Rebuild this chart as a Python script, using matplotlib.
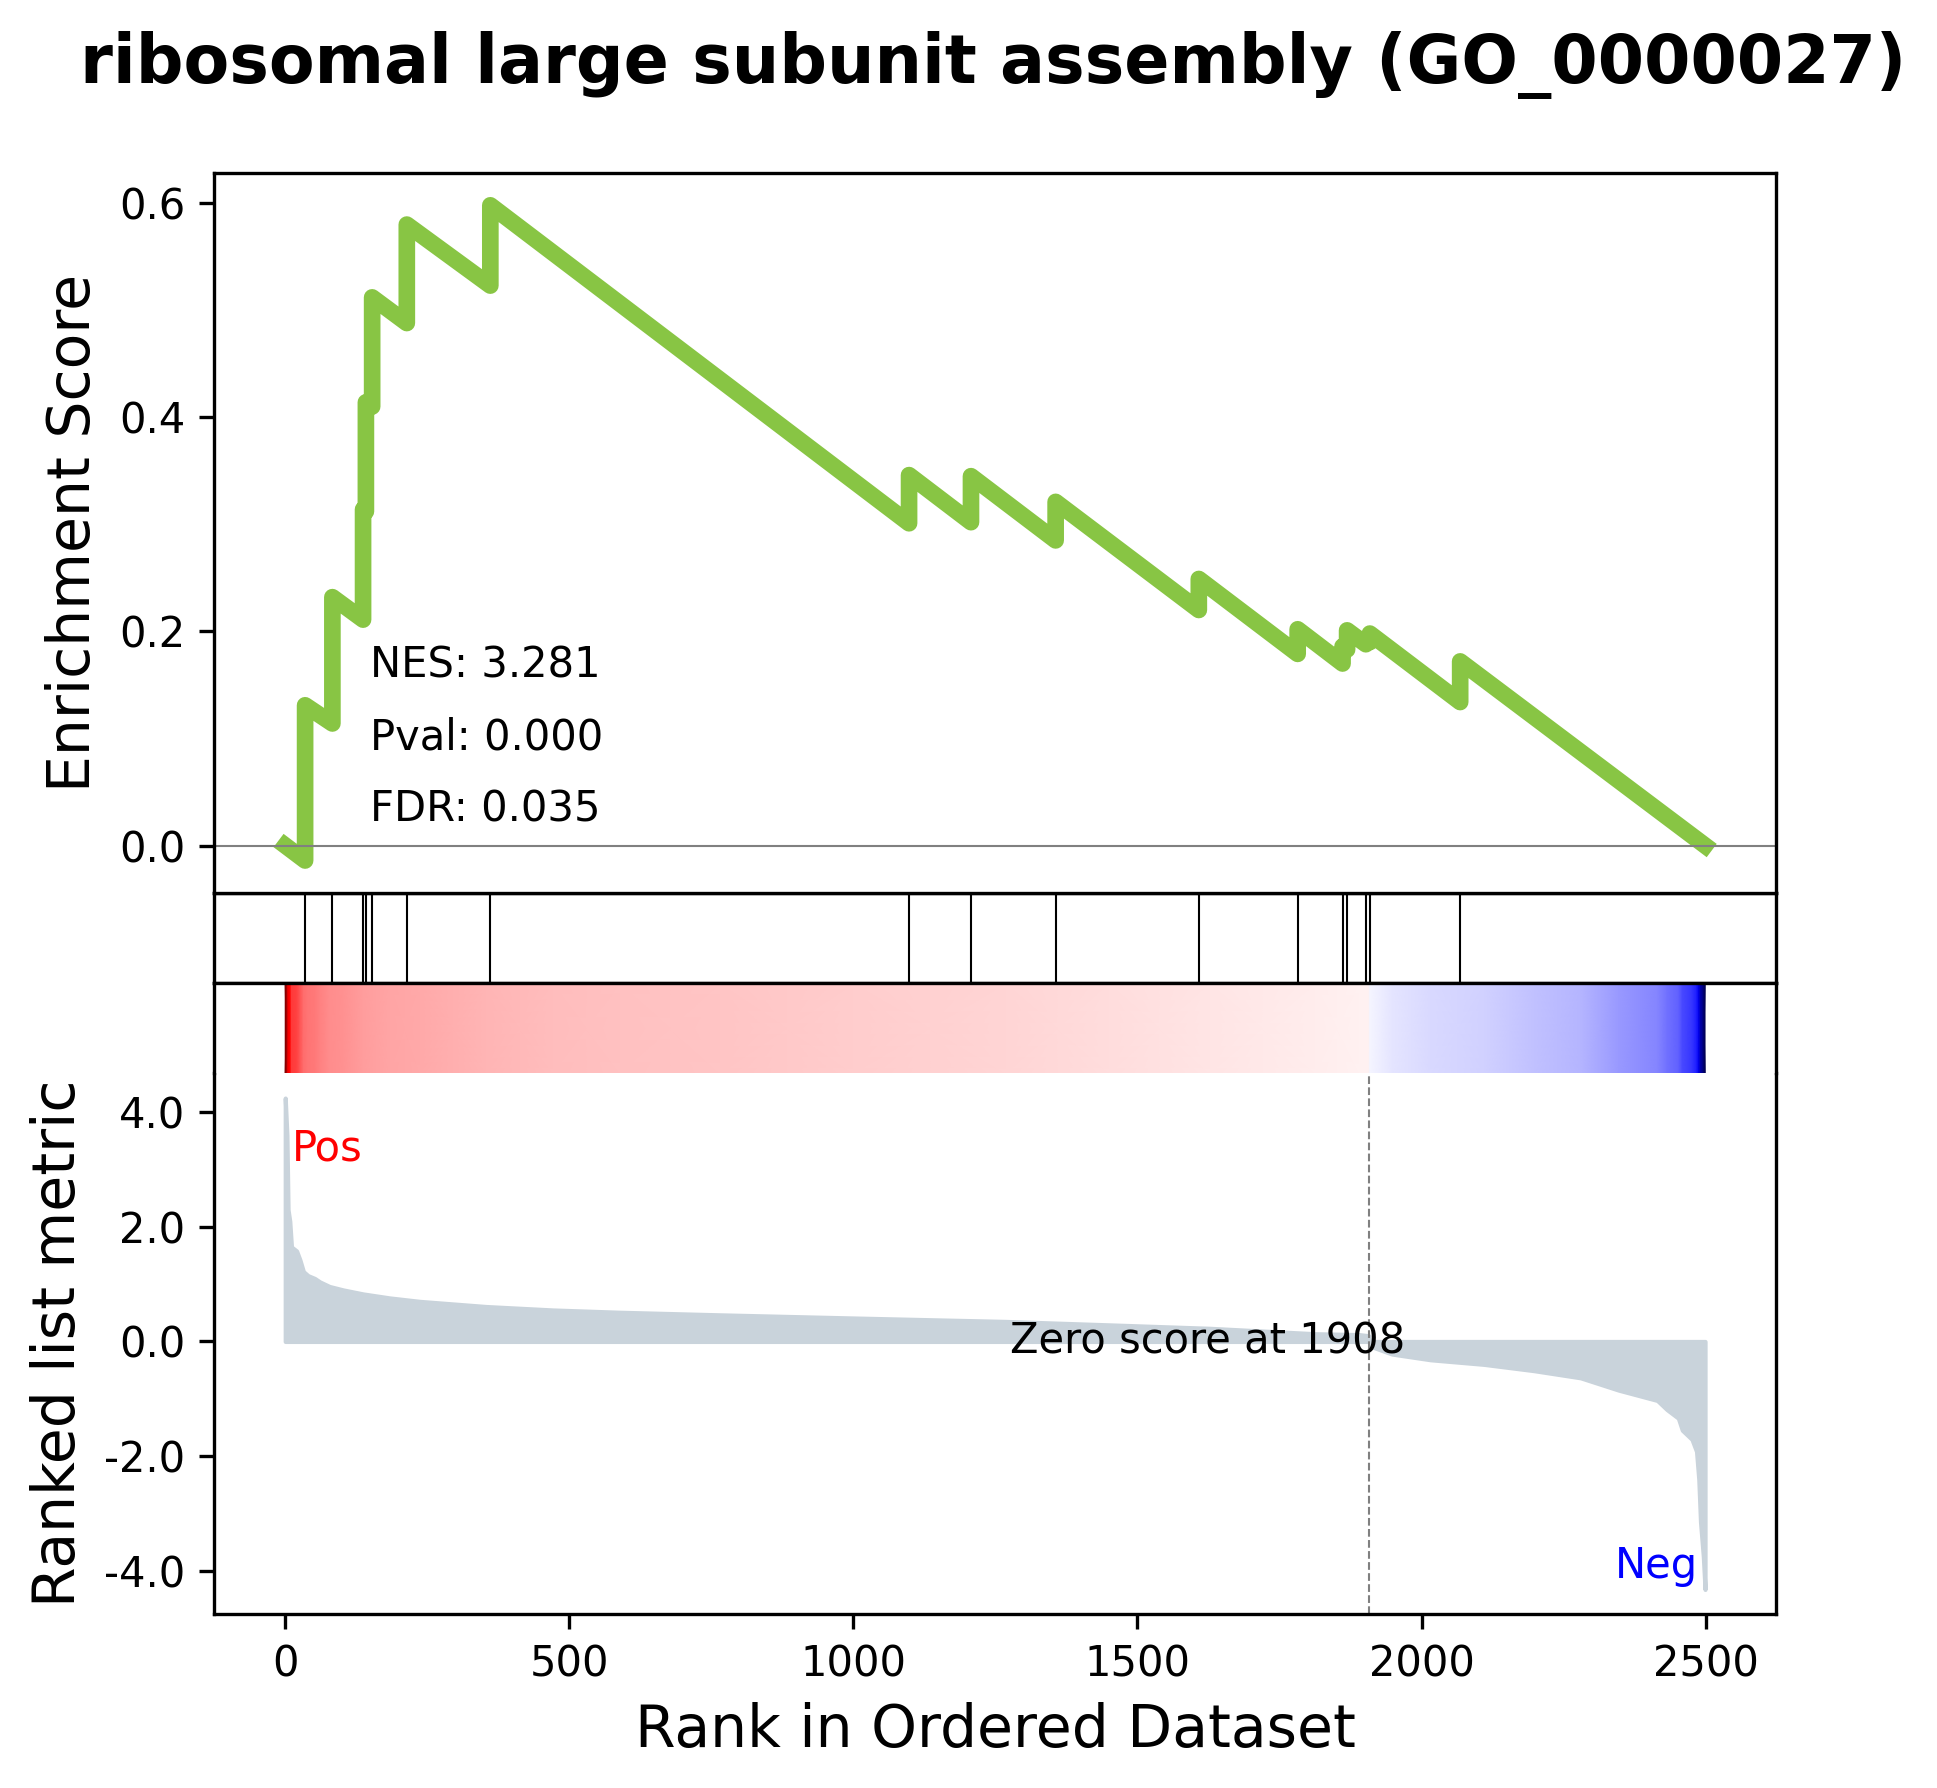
import numpy as np
import matplotlib
matplotlib.use("Agg")
import matplotlib.pyplot as plt
import matplotlib.transforms as transforms
from matplotlib.colors import TwoSlopeNorm

# ----------------- data -----------------
term = "ribosomal large subunit assembly (GO_0000027)"
nes_label = "NES: 3.281"
pval_label = "Pval: 0.000"
fdr_label = "FDR: 0.035"
zero_score_ind = 1908

# gene set hits (rank positions)
hit_ranks = [35, 83, 137, 142, 153, 214, 361, 1098, 1207, 1356,
             1608, 1782, 1861, 1869, 1902, 1909, 2068]

# running enrichment score, vertices (before / after each hit)
es_rank = [0, 35, 35, 83, 83, 137, 137, 142, 142, 153, 153, 214, 214,
           361, 361, 1098, 1098, 1207, 1207, 1356, 1356, 1608, 1608,
           1782, 1782, 1861, 1861, 1869, 1869, 1902, 1902, 1909, 1909,
           2068, 2068, 2499]
es_value = [0.000, -0.014, 0.131, 0.114, 0.232, 0.211, 0.314, 0.312,
            0.414, 0.410, 0.512, 0.488, 0.580, 0.523, 0.598, 0.301,
            0.346, 0.302, 0.345, 0.285, 0.321, 0.220, 0.249, 0.179,
            0.202, 0.170, 0.186, 0.183, 0.201, 0.188, 0.193, 0.190,
            0.198, 0.134, 0.172, 0.000]

# ranked list metric, sampled along the ranks
metric_rank = [0, 3, 5, 8, 11, 20, 26, 32, 40, 52, 61, 78, 102, 137,
               184, 237, 354, 471, 589, 765, 1000, 1268, 1450, 1627,
               1813, 1890, 1907, 1909, 1948, 2016, 2110, 2198, 2280,
               2347, 2415, 2432, 2452, 2459, 2476, 2484, 2488, 2491,
               2496, 2499]
metric_value = [4.25, 3.60, 2.30, 2.10, 1.65, 1.58, 1.42, 1.22, 1.15,
                1.10, 1.04, 0.96, 0.90, 0.83, 0.76, 0.70, 0.61, 0.55,
                0.51, 0.465, 0.41, 0.35, 0.29, 0.23, 0.135, 0.12, 0.10,
                -0.08, -0.22, -0.32, -0.40, -0.51, -0.635, -0.85, -1.03,
                -1.19, -1.34, -1.55, -1.71, -1.92, -2.41, -3.15, -3.76,
                -4.33]

# ----------------- figure -----------------
fig = plt.figure(figsize=(1937 / 300, 1788 / 300), dpi=300)
gs = plt.GridSpec(16, 1, left=0.1106, right=0.9169, top=0.9035,
                  bottom=0.0973, hspace=0)

# ranked metric
ax1 = fig.add_subplot(gs[10:])
ax1.fill_between(metric_rank, y1=metric_value, y2=0, color='#C9D3DB')
ax1.set_ylabel("Ranked list metric", fontsize=14)
ax1.set_xlabel("Rank in Ordered Dataset", fontsize=14)
ax1.text(.05, .9, "Pos", color='red', horizontalalignment='left',
         verticalalignment='top', transform=ax1.transAxes)
ax1.text(.95, .05, "Neg", color='Blue', horizontalalignment='right',
         verticalalignment='bottom', transform=ax1.transAxes)
trans1 = transforms.blended_transform_factory(ax1.transData, ax1.transAxes)
ax1.vlines(zero_score_ind, 0, 1, linewidth=.5, transform=trans1,
           linestyles='--', color='grey')
ax1.text(1624, 0.505, "Zero score at " + str(zero_score_ind),
         horizontalalignment='center', verticalalignment='center',
         transform=trans1)
ax1.locator_params(axis='y', nbins=5)
ax1.yaxis.set_major_formatter(plt.FuncFormatter(lambda v, n: '{:.1f}'.format(v)))
ax1.spines['top'].set_visible(False)

# gene hits
ax2 = fig.add_subplot(gs[8], sharex=ax1)
trans2 = transforms.blended_transform_factory(ax2.transData, ax2.transAxes)
ax2.vlines(hit_ranks, 0, 1, linewidth=.5, color='black', transform=trans2)
ax2.tick_params(axis='both', which='both', bottom=False, top=False,
                left=False, right=False, labelbottom=False, labelleft=False)

# colour bar of the ranking
ax3 = fig.add_subplot(gs[9], sharex=ax1)
norm = TwoSlopeNorm(vcenter=0, vmin=min(metric_value), vmax=max(metric_value))
mx, my = np.meshgrid(metric_rank, [0, 1])
mesh = ax3.pcolormesh(mx, my, np.array([metric_value, metric_value]),
                      cmap='seismic', norm=norm, shading='gouraud')
mesh.sticky_edges.x[:] = []
mesh.sticky_edges.y[:] = []
ax3.set_ylim(0, 1)
ax3.spines['bottom'].set_visible(False)
ax3.tick_params(axis='both', which='both', bottom=False, top=False,
                left=False, right=False, labelbottom=False, labelleft=False)

# enrichment score
ax4 = fig.add_subplot(gs[:8], sharex=ax1)
ax4.plot(es_rank, es_value, linewidth=4, color='#88C544')
ax4.text(.1, .1, fdr_label, transform=ax4.transAxes)
ax4.text(.1, .2, pval_label, transform=ax4.transAxes)
ax4.text(.1, .3, nes_label, transform=ax4.transAxes)
ax4.axhline(0, linewidth=.5, color='grey')
ax4.tick_params(axis='x', which='both', bottom=False, top=False,
                labelbottom=False)
ax4.locator_params(axis='y', nbins=5)
ax4.set_ylabel("Enrichment Score", fontsize=14)
ax4.yaxis.set_major_formatter(plt.FuncFormatter(lambda v, n: '{:.1f}'.format(v)))

fig.suptitle(term, fontsize=16, fontweight='bold', x=0.5127, y=0.9536,
             va='baseline')

fig.savefig("out.png", dpi=300)
